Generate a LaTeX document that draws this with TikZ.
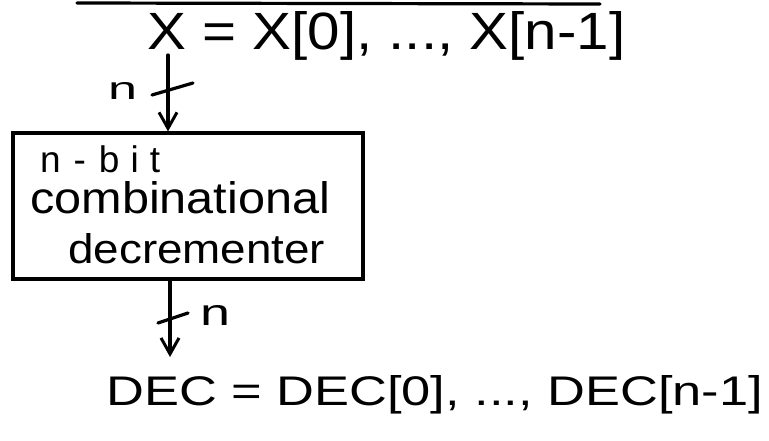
\documentclass[tikz,border=0pt]{standalone}
\usepackage{fontspec}
\setmainfont{Liberation Sans}
\usepackage{graphicx}
\usetikzlibrary{arrows.meta}
\tikzset{
  ink/.style={line width=3.2pt, line cap=round},
  wire/.style={ink, -{Straight Barb[length=16pt,width=18pt,line width=3pt]}},
  lbl/.style={inner sep=0pt, anchor=base west},
  blockbox/.style={draw, line width=3.2pt, minimum width=350pt, minimum height=146pt, inner sep=0pt},
}
\begin{document}
\begin{tikzpicture}[x=1pt,y=-1pt]
\useasboundingbox (0,0) rectangle (769,441);
% partial rule at the top edge
\coordinate (tl) at (77,3);
\coordinate (tr) at (600,4);
\draw[ink] (tl) -- (tr);
% input label
\node[lbl] (xin) at (147,50) {\resizebox{478pt}{38pt}{X = X[0], ..., X[n-1]}};
% block
\node[blockbox] (box) at (188,206) {};
\node[lbl] (t1) at (40,173) {\scalebox{3.7}{n\kern3.5pt-\kern3.5pt b\kern3pt i\kern3pt t}};
\node[lbl] (t2) at (30,214) {\resizebox{300pt}{32pt}{combinational}};
\node[lbl] (t3) at (68,263) {\resizebox{257pt}{30pt}{decrementer}};
% input arrow
\coordinate (ain) at (168,55);
\draw[wire] (ain) -- (ain |- box.north);
\coordinate (ta) at (152,95);
\coordinate (tb) at (193,83);
\draw[ink] (ta) -- (tb);
\node[lbl] (nin) at (108,100) {\resizebox{29pt}{17pt}{n}};
% output arrow
\coordinate (aout) at (170,357);
\draw[wire] (aout |- box.south) -- (aout);
\coordinate (tc) at (158,323);
\coordinate (td) at (188,313);
\draw[ink] (tc) -- (td);
\node[lbl] (nout) at (200,325) {\resizebox{30pt}{20pt}{n}};
% output label
\node[lbl] (dec) at (106,405) {\resizebox{657pt}{30pt}{DEC = DEC[0], ..., DEC[n-1]}};
\end{tikzpicture}
\end{document}
